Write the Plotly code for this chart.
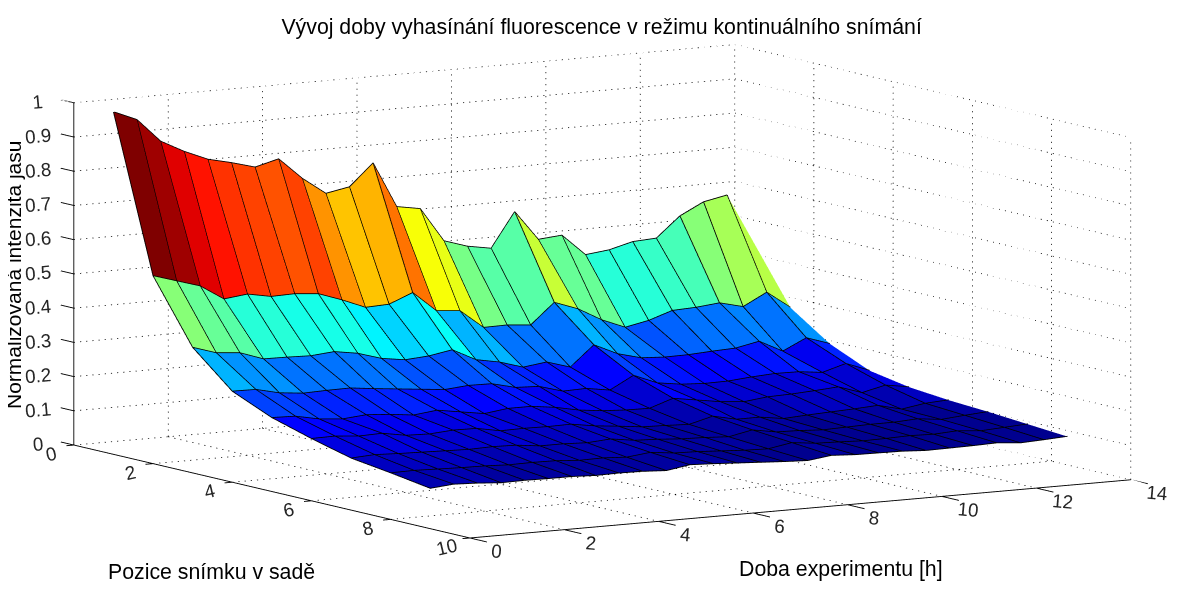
import plotly.graph_objects as go

hours = [0.5 * i for i in range(28)]
positions = [1, 2, 3, 4, 5, 6, 7, 8, 9]

row1 = [1.0, .971, .902, .866, .837, .821, .802, .820, .757, .707, .720, .784, .650, .638, .538, .516, .504, .605, .518, .524, .461, .469, .487, .491, .550, .585, .599, .463]
row2 = [.548, .527, .506, .462, .470, .457, .459, .453, .429, .401, .404, .432, .373, .367, .312, .313, .307, .367, .342, .304, .276, .290, .313, .316, .323, .306, .342, .292]
row3 = [.366, .344, .338, .314, .313, .311, .317, .306, .285, .275, .280, .292, .257, .244, .223, .232, .211, .270, .238, .220, .216, .217, .221, .224, .238, .203, .236, .213]
row4 = [.265, .264, .248, .241, .243, .244, .236, .229, .222, .215, .221, .220, .203, .200, .180, .182, .171, .208, .180, .170, .166, .167, .173, .177, .176, .168, .188, .162]
row5 = [.215, .213, .199, .193, .199, .194, .186, .194, .183, .172, .181, .181, .172, .158, .150, .146, .145, .168, .157, .146, .140, .148, .150, .154, .159, .136, .152, .141]
row6 = [.181, .182, .176, .178, .166, .164, .169, .168, .155, .156, .155, .156, .145, .138, .130, .128, .125, .143, .128, .128, .118, .122, .125, .128, .132, .115, .126, .130]
row7 = [.151, .155, .152, .150, .148, .146, .148, .146, .138, .138, .135, .140, .130, .127, .122, .120, .116, .130, .118, .116, .112, .114, .116, .116, .120, .112, .118, .123]
row8 = [.135, .136, .134, .132, .131, .128, .129, .128, .123, .124, .120, .128, .120, .118, .114, .110, .108, .120, .112, .110, .107, .108, .110, .108, .112, .106, .110, .114]
row9 = [.117, .123, .120, .115, .116, .115, .115, .112, .113, .112, .108, .119, .116, .112, .108, .104, .101, .110, .106, .105, .104, .100, .101, .102, .104, .098, .101, .105]
rows = [row1, row2, row3, row4, row5, row6, row7, row8, row9]

x_ticks = [0, 2, 4, 6, 8, 10, 12, 14]
y_ticks = [0, 2, 4, 6, 8, 10]
z_ticks = [0, .1, .2, .3, .4, .5, .6, .7, .8, .9, 1]
z_tick_text = ["0", "0.1", "0.2", "0.3", "0.4", "0.5", "0.6", "0.7", "0.8", "0.9", "1"]

TITLE = "Vývoj doby vyhasínání fluorescence v režimu kontinuálního snímání"
XLABEL = "Doba experimentu [h]"
YLABEL = "Pozice snímku v sadě"
ZLABEL = "Normalizovaná intenzita jasu"

COLOR_LOW, COLOR_HIGH = 0.09, 1.0
EDGE_LIFT = 0.001
TICK_X, TICK_Y, TICK_Z = 0.16, 0.33, 0.43
Z_PAD = 0.02


def jet(t):
    def c(v):
        return max(0.0, min(1.0, v))
    r = c(min(4 * t - 1.5, -4 * t + 4.5))
    g = c(min(4 * t - 0.5, -4 * t + 3.5))
    b = c(min(4 * t + 0.5, -4 * t + 2.5))
    return f"rgb({int(r*255)},{int(g*255)},{int(b*255)})"


nr, nc = len(positions), len(hours)

vx, vy, vz, ti, tj, tk, fc = [], [], [], [], [], [], []
for r in range(nr):
    for c in range(nc):
        vx.append(hours[c]); vy.append(positions[r]); vz.append(rows[r][c])
for r in range(nr - 1):
    for c in range(nc - 1):
        a = r * nc + c
        b = a + 1
        d = a + nc
        e = d + 1
        t = (rows[r][c] - COLOR_LOW) / (COLOR_HIGH - COLOR_LOW)
        t = min(63, int(t * 64)) / 63
        col = jet(t)
        ti += [a, a]; tj += [b, e]; tk += [e, d]
        fc += [col, col]

fig = go.Figure()
fig.add_trace(go.Mesh3d(x=vx, y=vy, z=vz, i=ti, j=tj, k=tk, facecolor=fc, flatshading=True,
                        lighting=dict(ambient=1, diffuse=0, specular=0, fresnel=0, roughness=1),
                        hoverinfo="skip", showscale=False))

# surface edges
ex, ey, ez = [], [], []
for r in range(nr):
    cols = range(nc - 1) if r == 0 else range(nc)
    for c in cols:
        ex.append(hours[c]); ey.append(positions[r]); ez.append(rows[r][c] + EDGE_LIFT)
    ex.append(None); ey.append(None); ez.append(None)
for c in range(nc - 1):
    for r in range(nr):
        ex.append(hours[c]); ey.append(positions[r]); ez.append(rows[r][c] + EDGE_LIFT)
    ex.append(None); ey.append(None); ez.append(None)
fig.add_trace(go.Scatter3d(x=ex, y=ey, z=ez, mode="lines", line=dict(color="black", width=1.8),
                           hoverinfo="skip", showlegend=False))

# dotted grid on the back walls and floor (one short dash per dot)
gx, gy, gz = [], [], []
DOT_GAP_X, DOT_GAP_Y, DOT_GAP_Z = 0.13, 0.15, 0.0175
def dotted(p, q, gap):
    length = sum(abs(p[k] - q[k]) for k in range(3))
    n = max(1, int(length / gap))
    for m in range(n):
        f0, f1 = m / n, (m + 0.2) / n
        for lst, k in ((gx, 0), (gy, 1), (gz, 2)):
            lst.extend([p[k] + (q[k] - p[k]) * f0, p[k] + (q[k] - p[k]) * f1, None])
X0, X1, Y0, Y1, Z0, Z1 = x_ticks[0], x_ticks[-1], y_ticks[0], y_ticks[-1], z_ticks[0], z_ticks[-1]
for xv in x_ticks:
    dotted((xv, Y0, Z0), (xv, Y1, Z0), DOT_GAP_Y)
    dotted((xv, Y0, Z0), (xv, Y0, Z1), DOT_GAP_Z)
for yv in y_ticks:
    dotted((X0, yv, Z0), (X1, yv, Z0), DOT_GAP_X)
    dotted((X1, yv, Z0), (X1, yv, Z1), DOT_GAP_Z)
for zv in z_ticks:
    dotted((X0, Y0, zv), (X1, Y0, zv), DOT_GAP_X)
    dotted((X1, Y0, zv), (X1, Y1, zv), DOT_GAP_Y)
fig.add_trace(go.Scatter3d(x=gx, y=gy, z=gz, mode="lines", line=dict(color="black", width=1.5),
                           hoverinfo="skip", showlegend=False))

# solid axis lines with their tick marks
ax, ay, az = [], [], []
def solid(p, q):
    ax.extend([p[0], q[0], None]); ay.extend([p[1], q[1], None]); az.extend([p[2], q[2], None])
solid((X0, Y1, Z0), (X1, Y1, Z0))
solid((X0, Y0, Z0), (X0, Y1, Z0))
solid((X0, Y0, Z0), (X0, Y0, Z1))
for xv in x_ticks:
    solid((xv, Y1, Z0), (xv, Y1 + TICK_Z, Z0))
for yv in y_ticks:
    solid((X0, yv, Z0), (X0 - TICK_X, yv, Z0))
for zv in z_ticks:
    solid((X0, Y0, zv), (X0, Y0 - TICK_Y, zv))
fig.add_trace(go.Scatter3d(x=ax, y=ay, z=az, mode="lines", line=dict(color="black", width=1.8),
                           hoverinfo="skip", showlegend=False))

axis_common = dict(showgrid=False, zeroline=False, showbackground=False, showspikes=False,
                   showline=False, ticks="",
                   tickfont=dict(family="Liberation Sans", size=15, color="#262626"),
                   title=dict(text=""))

fig.update_layout(
    width=1182, height=594, autosize=False, paper_bgcolor="white", showlegend=False,
    margin=dict(l=0, r=0, t=0, b=0, autoexpand=False),
    title=dict(text=TITLE, x=0.5022, y=0.968, xanchor="center", yanchor="middle",
               font=dict(family="Liberation Sans", size=21.3, color="black")),
    scene=dict(
        domain=dict(x=[0.0024, 1], y=[0.0328, 1]),
        aspectmode="manual", aspectratio=dict(x=2.696 * 14.16 / 14, y=2.637 * 10.76 / 10, z=1.227),
        camera=dict(eye=dict(x=-1.55, y=-2.53, z=0.431), center=dict(x=0, y=0, z=0), up=dict(x=0, y=0, z=1),
                    projection=dict(type="orthographic")),
        xaxis=dict(range=[-TICK_X, 14], tickvals=x_ticks, tickangle=5, **axis_common),
        yaxis=dict(range=[10 + TICK_Z, -TICK_Y], tickvals=y_ticks, tickangle=-13, **axis_common),
        zaxis=dict(range=[-Z_PAD, 1], tickvals=z_ticks, ticktext=z_tick_text, **axis_common),
    ),
    annotations=[
        dict(text=XLABEL, x=833 / 1182, y=1 - 561 / 594, xref="paper", yref="paper", showarrow=False, xanchor="center", yanchor="middle",
             font=dict(family="Liberation Sans", size=21.3, color="black")),
        dict(text=YLABEL, x=203 / 1182, y=1 - 564 / 594, xref="paper", yref="paper", showarrow=False, xanchor="center", yanchor="middle",
             font=dict(family="Liberation Sans", size=21.3, color="black")),
        dict(text=ZLABEL, x=5 / 1182, y=1 - 267 / 594, xref="paper", yref="paper", showarrow=False, textangle=-90, xanchor="center", yanchor="middle",
             font=dict(family="Liberation Sans", size=21, color="black")),
    ],
)
fig.write_html("out.html")
